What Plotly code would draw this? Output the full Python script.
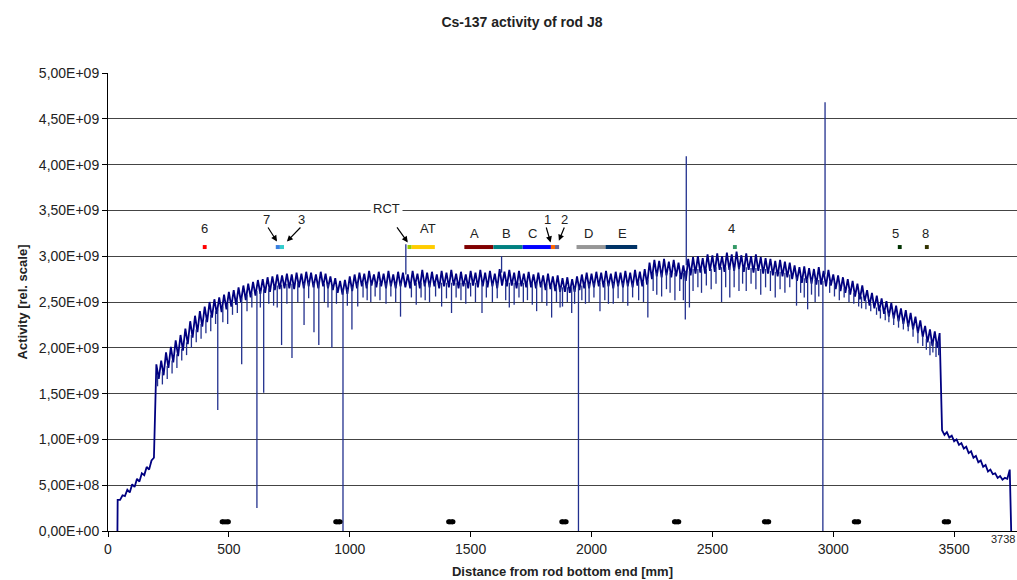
import numpy as np
import plotly.graph_objects as go

# ---------------- data (activity in units of 1e9) ----------------
grid_start_mm = 40
grid_step_mm = 10
activity_grid = [
    # 40 .. 130
    0.34, 0.34, 0.39, 0.38, 0.45, 0.42, 0.51, 0.48, 0.57, 0.54,
    # 140 .. 230
    0.63, 0.61, 0.70, 0.67, 0.77, 0.80, 1.82, 1.66, 1.86, 1.70,
    # 240 .. 330
    1.95, 1.78, 2.01, 1.84, 2.08, 1.91, 2.14, 1.97, 2.21, 2.04,
    # 340 .. 430
    2.29, 2.11, 2.35, 2.17, 2.40, 2.23, 2.45, 2.28, 2.50, 2.33,
    # 440 .. 530
    2.53, 2.37, 2.55, 2.39, 2.58, 2.42, 2.61, 2.45, 2.63, 2.47,
    # 540 .. 630
    2.66, 2.50, 2.68, 2.52, 2.70, 2.55, 2.72, 2.57, 2.74, 2.59,
    # 640 .. 730
    2.75, 2.60, 2.77, 2.61, 2.78, 2.63, 2.80, 2.64, 2.79, 2.65,
    # 740 .. 830
    2.81, 2.65, 2.80, 2.64, 2.82, 2.66, 2.81, 2.65, 2.83, 2.67,
    # 840 .. 930
    2.82, 2.66, 2.80, 2.65, 2.83, 2.67, 2.81, 2.65, 2.78, 2.63,
    # 940 .. 1030
    2.76, 2.60, 2.73, 2.58, 2.74, 2.59, 2.78, 2.62, 2.80, 2.65,
    # 1040 .. 1130
    2.82, 2.67, 2.81, 2.65, 2.84, 2.68, 2.80, 2.66, 2.83, 2.67,
    # 1140 .. 1230
    2.81, 2.65, 2.84, 2.67, 2.80, 2.65, 2.83, 2.67, 2.82, 2.66,
    # 1240 .. 1330
    2.80, 2.65, 2.84, 2.68, 2.81, 2.65, 2.85, 2.67, 2.82, 2.66,
    # 1340 .. 1430
    2.83, 2.67, 2.80, 2.65, 2.84, 2.67, 2.82, 2.66, 2.85, 2.68,
    # 1440 .. 1530
    2.81, 2.65, 2.83, 2.67, 2.80, 2.65, 2.84, 2.68, 2.82, 2.66,
    # 1540 .. 1630
    2.85, 2.67, 2.82, 2.66, 2.84, 2.67, 2.81, 2.65, 2.86, 2.68,
    # 1640 .. 1730
    2.83, 2.67, 2.85, 2.68, 2.82, 2.65, 2.84, 2.67, 2.81, 2.66,
    # 1740 .. 1830
    2.83, 2.66, 2.80, 2.65, 2.82, 2.66, 2.79, 2.63, 2.81, 2.64,
    # 1840 .. 1930
    2.78, 2.62, 2.79, 2.61, 2.76, 2.61, 2.77, 2.60, 2.75, 2.61,
    # 1940 .. 2030
    2.78, 2.63, 2.80, 2.65, 2.82, 2.65, 2.81, 2.66, 2.83, 2.67,
    # 2040 .. 2130
    2.82, 2.66, 2.84, 2.67, 2.81, 2.65, 2.83, 2.67, 2.82, 2.66,
    # 2140 .. 2230
    2.84, 2.67, 2.82, 2.66, 2.85, 2.68, 2.83, 2.67, 2.86, 2.69,
    # 2240 .. 2330
    2.93, 2.75, 2.96, 2.78, 2.95, 2.77, 2.97, 2.79, 2.94, 2.77,
    # 2340 .. 2430
    2.96, 2.78, 2.93, 2.75, 2.90, 2.73, 2.97, 2.79, 2.99, 2.81,
    # 2440 .. 2530
    3.00, 2.82, 2.98, 2.81, 3.02, 2.84, 3.01, 2.83, 3.03, 2.85,
    # 2540 .. 2630
    3.00, 2.83, 3.04, 2.85, 3.02, 2.84, 3.05, 2.86, 3.01, 2.83,
    # 2640 .. 2730
    3.03, 2.85, 3.00, 2.82, 3.02, 2.84, 2.99, 2.81, 2.98, 2.81,
    # 2740 .. 2830
    2.97, 2.79, 2.95, 2.78, 2.96, 2.78, 2.94, 2.77, 2.93, 2.75,
    # 2840 .. 2930
    2.90, 2.73, 2.88, 2.71, 2.89, 2.71, 2.87, 2.70, 2.86, 2.69,
    # 2940 .. 3030
    2.88, 2.69, 2.84, 2.67, 2.85, 2.68, 2.80, 2.64, 2.79, 2.62,
    # 3040 .. 3130
    2.77, 2.60, 2.75, 2.58, 2.73, 2.56, 2.70, 2.53, 2.68, 2.51,
    # 3140 .. 3230
    2.63, 2.46, 2.60, 2.43, 2.57, 2.40, 2.54, 2.37, 2.51, 2.34,
    # 3240 .. 3330
    2.49, 2.32, 2.46, 2.29, 2.43, 2.26, 2.41, 2.23, 2.38, 2.20,
    # 3340 .. 3430
    2.34, 2.16, 2.30, 2.12, 2.24, 2.06, 2.20, 2.02, 2.18, 2.00,
    # 3440 .. 3530
    2.16, 1.10, 1.05, 1.08, 1.02, 1.04, 0.98, 1.00, 0.94, 0.96,
    # 3540 .. 3630
    0.90, 0.92, 0.85, 0.87, 0.80, 0.82, 0.75, 0.77, 0.70, 0.72,
    # 3640 .. 3730
    0.65, 0.67, 0.62, 0.63, 0.58, 0.60, 0.56, 0.58, 0.57, 0.67,
]
# rod ends (signal returns to zero)
edge_mm = [39, 3736]
edge_val = [0.00, 0.00]

# narrow dips / peaks: (position mm, band level, extreme value)
dips = [
    (205, 1.70, 1.58), (225, 1.74, 1.60), (245, 1.80, 1.66), (265, 1.86, 1.72),
    (285, 1.93, 1.78), (305, 1.99, 1.86), (325, 2.06, 1.92), (345, 2.14, 2.00),
    (365, 2.20, 2.06), (385, 2.26, 2.10), (405, 2.31, 2.16), (425, 2.36, 2.18),
    (445, 2.40, 2.26), (454, 2.42, 1.32), (475, 2.45, 2.28), (495, 2.48, 2.26),
    (515, 2.50, 2.36), (535, 2.52, 2.38), (553, 2.54, 1.82), (575, 2.58, 2.40),
    (595, 2.60, 2.44), (616, 2.62, 0.25), (630, 2.62, 2.44), (644, 2.64, 1.51),
    (665, 2.65, 2.48), (685, 2.67, 2.46), (700, 2.68, 2.44), (718, 2.69, 2.03),
    (740, 2.70, 2.48), (761, 2.70, 1.89), (785, 2.71, 2.50), (811, 2.71, 2.25),
    (830, 2.72, 2.54), (852, 2.71, 2.17), (872, 2.72, 2.03), (895, 2.70, 2.50),
    (910, 2.70, 2.44), (926, 2.68, 2.00), (945, 2.65, 2.48), (972, 2.64, 0.00),
    (990, 2.64, 2.46), (1009, 2.67, 2.20), (1033, 2.71, 2.45), (1055, 2.71, 2.55),
    (1072, 2.71, 2.52), (1087, 2.71, 2.50), (1105, 2.71, 2.56), (1125, 2.71, 2.52),
    (1150, 2.71, 2.48), (1170, 2.71, 2.56), (1190, 2.71, 2.50), (1210, 2.71, 2.34),
    (1232, 2.80, 3.13), (1255, 2.71, 2.55), (1275, 2.71, 2.47), (1295, 2.71, 2.55),
    (1312, 2.71, 2.52), (1330, 2.71, 2.50), (1355, 2.71, 2.56), (1380, 2.71, 2.45),
    (1400, 2.71, 2.54), (1421, 2.71, 2.38), (1440, 2.71, 2.55), (1460, 2.71, 2.52),
    (1480, 2.71, 2.48), (1500, 2.71, 2.56), (1520, 2.71, 2.50), (1547, 2.71, 2.38),
    (1565, 2.71, 2.55), (1590, 2.71, 2.50), (1610, 2.71, 2.54), (1628, 2.82, 3.00),
    (1645, 2.71, 2.52), (1660, 2.71, 2.44), (1680, 2.71, 2.47), (1700, 2.71, 2.55),
    (1718, 2.71, 2.50), (1735, 2.71, 2.52), (1755, 2.71, 2.47), (1773, 2.71, 2.40),
    (1795, 2.71, 2.50), (1815, 2.70, 2.46), (1835, 2.69, 2.33), (1855, 2.66, 2.50),
    (1870, 2.66, 2.44), (1880, 2.66, 2.45), (1900, 2.66, 2.50), (1918, 2.66, 2.38),
    (1930, 2.66, 2.48), (1946, 2.67, 0.00), (1960, 2.68, 2.52), (1975, 2.70, 2.48),
    (1990, 2.70, 2.50), (2010, 2.71, 2.55), (2035, 2.71, 2.40), (2055, 2.71, 2.52),
    (2070, 2.71, 2.48), (2090, 2.71, 2.48), (2110, 2.71, 2.54), (2130, 2.71, 2.50),
    (2150, 2.71, 2.46), (2170, 2.71, 2.55), (2195, 2.72, 2.52), (2215, 2.72, 2.50),
    (2233, 2.74, 2.33), (2255, 2.82, 2.62), (2270, 2.82, 2.58), (2290, 2.82, 2.56),
    (2310, 2.82, 2.64), (2325, 2.82, 2.60), (2345, 2.82, 2.52), (2365, 2.80, 2.62),
    (2380, 2.82, 2.52), (2388, 2.84, 2.31), (2392, 2.90, 4.09), (2405, 2.84, 2.44),
    (2420, 2.86, 2.62), (2440, 2.86, 2.66), (2455, 2.86, 2.60), (2475, 2.86, 2.68),
    (2495, 2.86, 2.64), (2515, 2.88, 2.70), (2538, 2.88, 2.50), (2555, 2.88, 2.66),
    (2572, 2.88, 2.55), (2590, 2.88, 2.66), (2610, 2.88, 2.62), (2625, 2.88, 2.70),
    (2640, 2.88, 2.62), (2660, 2.87, 2.70), (2680, 2.87, 2.64), (2700, 2.86, 2.58),
    (2720, 2.86, 2.66), (2740, 2.84, 2.62), (2760, 2.83, 2.55), (2780, 2.83, 2.64),
    (2800, 2.82, 2.60), (2820, 2.80, 2.66), (2848, 2.77, 2.46), (2865, 2.76, 2.60),
    (2880, 2.76, 2.55), (2894, 2.75, 2.42), (2910, 2.75, 2.58), (2925, 2.74, 2.50),
    (2940, 2.74, 2.56), (2957, 2.73, 0.00), (2966, 2.80, 4.68), (2985, 2.72, 2.60),
    (3005, 2.70, 2.56), (3025, 2.68, 2.52), (3045, 2.65, 2.55), (3065, 2.63, 2.50),
    (3085, 2.60, 2.48), (3105, 2.58, 2.45), (3117, 2.56, 2.43), (3135, 2.52, 2.42),
    (3155, 2.48, 2.40), (3179, 2.44, 2.36), (3195, 2.42, 2.32), (3215, 2.40, 2.30),
    (3230, 2.38, 2.28), (3250, 2.36, 2.25), (3270, 2.33, 2.22), (3290, 2.30, 2.20),
    (3310, 2.27, 2.18), (3330, 2.24, 2.12), (3350, 2.18, 2.05), (3370, 2.13, 2.02),
    (3385, 2.10, 1.98), (3400, 2.07, 1.92), (3412, 2.07, 1.95), (3425, 2.05, 1.90),
    (3436, 2.08, 1.92),
]

# spacer-grid positions (black marks near the bottom)
spacer_mm = [485, 951, 1418, 1886, 2352, 2724, 3096, 3468]
spacer_level = 0.10

# measured zones drawn at the top
zone_names = ["6", "7", "3", "RCT", "AT", "A", "B", "C", "1", "2", "D", "E", "4", "5", "8"]
zone_start = [392, 694, 711, 1239, 1256, 1474, 1594, 1715, 1832, 1849, 1938, 2058, 2585, 3267, 3379]
zone_end = [408, 711, 728, 1256, 1352, 1594, 1715, 1832, 1849, 1866, 2058, 2189, 2601, 3283, 3395]
zone_colors = ["#ff0000", "#3a7fe0", "#33cccc", "#99cc00", "#ffcc00", "#800000", "#008080",
               "#0000ff", "#ff6600", "#666699", "#969696", "#003366", "#339966", "#003300", "#333300"]
zone_level = 3.10

label_text = ["6", "7", "3", "AT", "A", "B", "C", "1", "2", "D", "E", "4", "5", "8"]
label_mm = [401, 655, 802, 1323, 1518, 1649, 1755, 1817, 1890, 1987, 2129, 2580, 3259, 3381]
label_val = [3.30, 3.40, 3.40, 3.30, 3.25, 3.25, 3.25, 3.40, 3.40, 3.25, 3.25, 3.30, 3.25, 3.25]

# arrows: (tail mm, tail val) -> (head mm, head val)
arrow_tail_mm = [658, 802, 1191, 1811, 1890]
arrow_tail_val = [3.33, 3.33, 3.33, 3.33, 3.33]
arrow_head_mm = [699, 740, 1240, 1831, 1865]
arrow_head_val = [3.16, 3.16, 3.15, 3.15, 3.17]

x_ticks = [0, 500, 1000, 1500, 2000, 2500, 3000, 3500]
y_tick_vals = [0, 0.5, 1.0, 1.5, 2.0, 2.5, 3.0, 3.5, 4.0, 4.5, 5.0]
y_tick_text = ["0,00E+00", "5,00E+08", "1,00E+09", "1,50E+09", "2,00E+09", "2,50E+09",
               "3,00E+09", "3,50E+09", "4,00E+09", "4,50E+09", "5,00E+09"]
rod_length_mm = 3738
SCALE = 1e9

# ---------------- build ----------------
grid_mm = grid_start_mm + grid_step_mm * np.arange(len(activity_grid))
all_x = np.concatenate([grid_mm, np.array(edge_mm)])
all_y = np.concatenate([np.array(activity_grid), np.array(edge_val)])
order = np.argsort(all_x, kind="stable")
all_x = all_x[order]
all_y = all_y[order] * SCALE

dip_x, dip_y = [], []
for m, top, ext in dips:
    dip_x += [m, m, None]
    dip_y += [top * SCALE, ext * SCALE, None]

FONT = "Liberation Sans, Arial, sans-serif"
fig = go.Figure()

fig.add_trace(go.Scatter(x=all_x, y=all_y, mode="lines",
                         line=dict(color="#000080", width=1.8, simplify=False),
                         showlegend=False, hoverinfo="skip"))
fig.add_trace(go.Scatter(x=dip_x, y=dip_y, mode="lines", connectgaps=False,
                         line=dict(color="#22308e", width=1.3, simplify=False),
                         showlegend=False, hoverinfo="skip"))

# spacer marks
for i, p in enumerate(spacer_mm):
    half = 13 if i == 0 else 9
    fig.add_trace(go.Scatter(x=[p - half, p + half], y=[spacer_level * SCALE] * 2,
                             mode="lines+markers",
                             line=dict(color="black", width=5),
                             marker=dict(color="black", size=5),
                             showlegend=False, hoverinfo="skip"))

# zones
for s, e, c in zip(zone_start, zone_end, zone_colors):
    fig.add_trace(go.Scatter(x=[s, e], y=[zone_level * SCALE] * 2, mode="lines",
                             line=dict(color=c, width=4),
                             showlegend=False, hoverinfo="skip"))

annotations = []
for t, xm, yv in zip(label_text, label_mm, label_val):
    annotations.append(dict(x=xm, y=yv * SCALE, xref="x", yref="y", text=t,
                            showarrow=False, font=dict(size=13, color="#222", family=FONT)))
annotations.append(dict(x=1150, y=3.52 * SCALE, xref="x", yref="y", text="RCT",
                        showarrow=False, bgcolor="white", borderpad=2,
                        font=dict(size=13, color="#222", family=FONT)))
for tx, ty, hx, hy in zip(arrow_tail_mm, arrow_tail_val, arrow_head_mm, arrow_head_val):
    annotations.append(dict(x=hx, y=hy * SCALE, ax=tx, ay=ty * SCALE, xref="x", yref="y",
                            axref="x", ayref="y", text="", showarrow=True,
                            arrowhead=2, arrowsize=1, arrowwidth=1.2, arrowcolor="black"))
annotations.append(dict(x=1, xref="paper", y=0, yref="y", xanchor="right", yanchor="middle",
                        yshift=-8, text=str(rod_length_mm), showarrow=False,
                        font=dict(size=11, color="#222", family=FONT)))

fig.update_layout(
    width=1017, height=580,
    margin=dict(l=108, r=0, t=73, b=49),
    paper_bgcolor="white", plot_bgcolor="white",
    font=dict(family=FONT, color="#222"),
    title=dict(text="<b>Cs-137 activity of rod J8</b>", x=522 / 1017, xref="container",
               xanchor="center", y=1 - 22 / 580, yref="container", yanchor="middle",
               font=dict(size=14, color="#222", family=FONT)),
    xaxis=dict(range=[0, 3760], tickvals=x_ticks, ticks="outside", ticklen=5,
               tickcolor="black", showline=True, linecolor="black", linewidth=1,
               showgrid=False, zeroline=False, tickfont=dict(size=14, family=FONT, color="#222"),
               title=dict(text="<b>Distance from rod bottom end [mm]</b>", standoff=11,
                          font=dict(size=13, family=FONT, color="#222"))),
    yaxis=dict(range=[0, 5 * SCALE], tickvals=[v * SCALE for v in y_tick_vals],
               ticktext=y_tick_text, ticks="outside", ticklen=5, tickcolor="black",
               showline=True, linecolor="black", linewidth=1,
               showgrid=True, gridcolor="#444", gridwidth=1, zeroline=False,
               tickfont=dict(size=14, family=FONT, color="#222"),
               title=dict(text="<b>Activity [rel. scale]</b>", standoff=8,
                          font=dict(size=13, family=FONT, color="#222"))),
    annotations=annotations,
)

fig.write_html("out.html")
